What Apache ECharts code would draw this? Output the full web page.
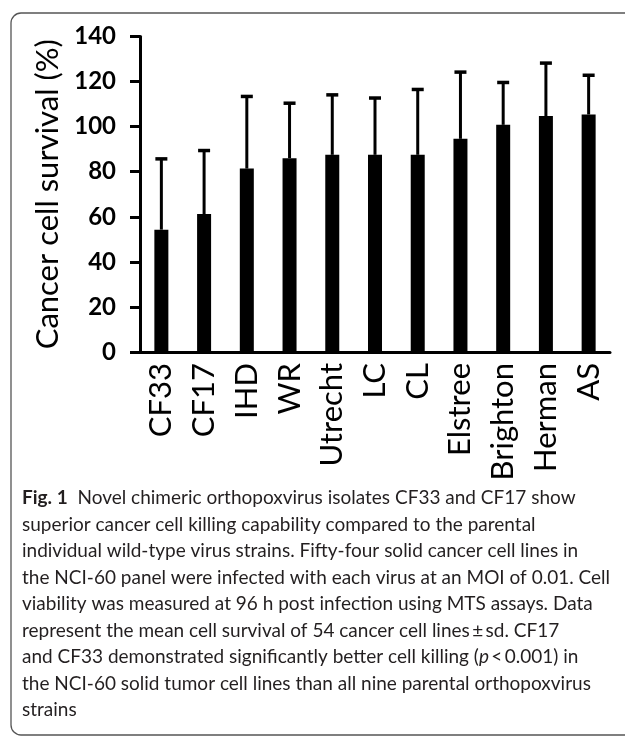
<!DOCTYPE html>
<html>
<head>
<meta charset="utf-8">
<script src="https://cdn.jsdelivr.net/npm/echarts@6/dist/echarts.min.js"></script>
<style>
html,body{margin:0;padding:0;background:#fff;}
#chart{width:625px;height:736px;}
</style>
</head>
<body>
<div id="chart"></div>
<script>
// ---- data ----
const categories = ['CF33', 'CF17', 'IHD', 'WR', 'Utrecht', 'LC', 'CL', 'Elstree', 'Brighton', 'Herman', 'AS'];
const survival = [54.3, 61.2, 81.4, 86.0, 87.5, 87.5, 87.5, 94.6, 100.8, 104.7, 105.4];
const sd = [31.4, 28.2, 32.0, 24.4, 26.6, 25.2, 29.0, 29.6, 18.8, 23.5, 17.4];
const yMin = 0, yMax = 140, yStep = 20;
const yTitle = 'Cancer cell survival (%)';
const captionLines = [
  '{b|Fig. 1}  Novel chimeric orthopoxvirus isolates CF33 and CF17 show',
  'superior cancer cell killing capability compared to the parental',
  'individual wild-type virus strains. Fifty-four solid cancer cell lines in',
  'the NCI-60 panel were infected with each virus at an MOI of 0.01. Cell',
  'viability was measured at 96 h post infection using MTS assays. Data',
  'represent the mean cell survival of 54 cancer cell lines\u2009\u00b1\u2009sd. CF17',
  'and CF33 demonstrated significantly better cell killing ({i|p}\u2009<\u20090.001) in',
  'the NCI-60 solid tumor cell lines than all nine parental orthopoxvirus',
  'strains'
];

const chart = echarts.init(document.getElementById('chart'), null, {renderer: 'canvas'});
const errData = categories.map((c, i) => [i, survival[i], survival[i] + sd[i]]);

const capFont = 19, capLH = 26.5;

chart.setOption({
  animation: false,
  backgroundColor: '#fff',
  grid: {left: 140, right: 15, top: 36.5, bottom: 384},
  xAxis: {
    type: 'category',
    data: categories,
    axisLine: {lineStyle: {color: '#000', width: 3}},
    axisTick: {show: false},
    axisLabel: {
      rotate: 90, margin: 11, color: '#000',
      fontFamily: 'Lato', fontSize: 31
    }
  },
  yAxis: {
    type: 'value',
    min: yMin, max: yMax, interval: yStep,
    name: yTitle,
    nameLocation: 'middle',
    nameGap: 71,
    nameTextStyle: {fontFamily: 'Lato', fontSize: 31, color: '#000'},
    axisLine: {show: true, lineStyle: {color: '#000', width: 3}},
    axisTick: {show: true, length: 10, lineStyle: {color: '#000', width: 3}},
    splitLine: {show: false},
    axisLabel: {
      margin: 24, color: '#000',
      fontFamily: 'Lato', fontWeight: 'bold', fontSize: 24
    }
  },
  series: [
    {
      type: 'bar',
      data: survival,
      barWidth: 14,
      itemStyle: {color: '#000'},
      z: 2
    },
    {
      type: 'custom',
      data: errData,
      encode: {x: 0, y: 2},
      z: 3,
      renderItem: function (params, api) {
        const idx = api.value(0);
        const top = api.coord([idx, api.value(2)]);
        const base = api.coord([idx, api.value(1)]);
        return {
          type: 'group',
          children: [
            {type: 'line', shape: {x1: top[0], y1: top[1], x2: base[0], y2: base[1]},
             style: {stroke: '#000', lineWidth: 3}},
            {type: 'line', shape: {x1: top[0] - 6, y1: top[1], x2: top[0] + 6, y2: top[1]},
             style: {stroke: '#000', lineWidth: 3.5}}
          ]
        };
      }
    }
  ],
  graphic: [
    {
      type: 'rect',
      shape: {x: 11, y: 13, width: 700, height: 722, r: 10},
      style: {fill: 'none', stroke: '#555', lineWidth: 1.3},
      silent: true
    },
    {
      type: 'text',
      left: 22, top: 485,
      style: {
        text: captionLines.join('\n'),
        fontFamily: 'Lato', fontSize: capFont, lineHeight: capLH,
        fill: '#231f20',
        rich: {
          b: {fontWeight: 'bold', fontFamily: 'Lato', fontSize: capFont, lineHeight: capLH, fill: '#231f20'},
          i: {fontStyle: 'italic', fontFamily: 'Lato', fontSize: capFont, lineHeight: capLH, fill: '#231f20'}
        }
      }
    }
  ]
});
</script>
</body>
</html>
